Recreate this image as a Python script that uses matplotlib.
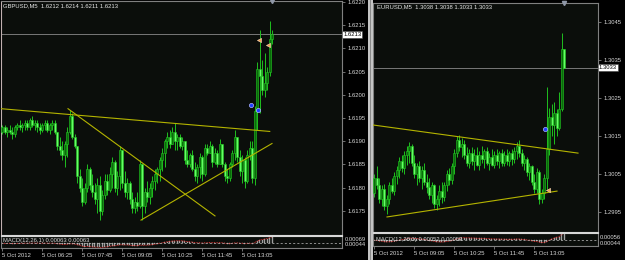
import matplotlib
matplotlib.use('Agg')
import matplotlib.pyplot as plt
import matplotlib.transforms as mtransforms
from matplotlib.patches import Rectangle
import numpy as np
import pandas as pd

plt.rcParams['font.family'] = ['Liberation Sans', 'DejaVu Sans']

# ---------------- DATA ----------------
# GBPUSD M5, 5 Oct 2012, from 05:05
gbp_open = [1.61920,1.61930,1.61920,1.61925,1.61920,1.61915,1.61930,1.61935,1.61930,1.61935,
            1.61940,1.61930,1.61945,1.61935,1.61940,1.61930,1.61925,1.61935,1.61940,1.61925,
            1.61935,1.61940,1.61920,1.61890,1.61880,1.61870,1.61895,1.61920,1.61955,1.61910,
            1.61890,1.61825,1.61800,1.61770,1.61800,1.61840,1.61805,1.61790,1.61775,1.61805,
            1.61750,1.61785,1.61815,1.61795,1.61830,1.61855,1.61800,1.61825,1.61880,1.61810,
            1.61790,1.61810,1.61775,1.61755,1.61770,1.61760,1.61850,1.61760,1.61790,1.61780,
            1.61800,1.61815,1.61830,1.61840,1.61860,1.61875,1.61900,1.61910,1.61895,1.61920,
            1.61900,1.61910,1.61890,1.61900,1.61860,1.61850,1.61870,1.61840,1.61825,1.61845,
            1.61865,1.61830,1.61885,1.61875,1.61890,1.61855,1.61875,1.61850,1.61895,1.61850,
            1.61825,1.61820,1.61850,1.61875,1.61910,1.61865,1.61835,1.61860,1.61815,1.61870,
            1.61885,1.61820,1.61965,1.62055,1.62040,1.62010,1.62025,1.62050,1.62120]
gbp_close = [1.61930,1.61920,1.61925,1.61920,1.61915,1.61930,1.61935,1.61930,1.61935,1.61940,
             1.61930,1.61945,1.61935,1.61940,1.61930,1.61925,1.61935,1.61940,1.61925,1.61935,
             1.61940,1.61920,1.61890,1.61880,1.61870,1.61895,1.61920,1.61955,1.61910,1.61890,
             1.61825,1.61800,1.61770,1.61800,1.61840,1.61805,1.61790,1.61775,1.61805,1.61750,
             1.61785,1.61815,1.61795,1.61830,1.61855,1.61800,1.61825,1.61880,1.61810,1.61790,
             1.61810,1.61775,1.61755,1.61770,1.61760,1.61850,1.61760,1.61790,1.61780,1.61800,
             1.61815,1.61830,1.61840,1.61860,1.61875,1.61900,1.61910,1.61895,1.61920,1.61900,
             1.61910,1.61890,1.61900,1.61860,1.61850,1.61870,1.61840,1.61825,1.61845,1.61865,
             1.61830,1.61885,1.61875,1.61890,1.61855,1.61875,1.61850,1.61895,1.61850,1.61825,
             1.61820,1.61850,1.61875,1.61910,1.61865,1.61835,1.61860,1.61815,1.61870,1.61885,
             1.61820,1.61965,1.62055,1.62040,1.62010,1.62025,1.62050,1.62120,1.62130]
gbp_high = [1.61935,1.61935,1.61930,1.61935,1.61930,1.61935,1.61940,1.61945,1.61940,1.61945,
            1.61945,1.61950,1.61955,1.61945,1.61945,1.61940,1.61940,1.61945,1.61945,1.61940,
            1.61945,1.61945,1.61920,1.61910,1.61900,1.61900,1.61930,1.61968,1.61960,1.61915,
            1.61890,1.61840,1.61820,1.61810,1.61850,1.61845,1.61830,1.61810,1.61820,1.61825,
            1.61795,1.61830,1.61830,1.61845,1.61865,1.61860,1.61835,1.61890,1.61880,1.61835,
            1.61820,1.61815,1.61790,1.61780,1.61790,1.61860,1.61850,1.61800,1.61815,1.61810,
            1.61825,1.61840,1.61845,1.61865,1.61885,1.61905,1.61920,1.61925,1.61930,1.61940,
            1.61915,1.61915,1.61910,1.61900,1.61880,1.61875,1.61880,1.61855,1.61850,1.61875,
            1.61870,1.61895,1.61895,1.61900,1.61895,1.61885,1.61880,1.61905,1.61895,1.61855,
            1.61840,1.61855,1.61880,1.61925,1.61910,1.61880,1.61870,1.61865,1.61880,1.61900,
            1.61900,1.61975,1.62070,1.62140,1.62075,1.62090,1.62060,1.62158,1.62140]
gbp_low = [1.61915,1.61915,1.61910,1.61915,1.61905,1.61910,1.61925,1.61925,1.61920,1.61925,
           1.61925,1.61925,1.61930,1.61925,1.61920,1.61915,1.61920,1.61925,1.61920,1.61915,
           1.61925,1.61915,1.61880,1.61870,1.61860,1.61845,1.61865,1.61915,1.61905,1.61885,
           1.61810,1.61790,1.61760,1.61765,1.61790,1.61795,1.61780,1.61765,1.61745,1.61730,
           1.61740,1.61775,1.61785,1.61790,1.61800,1.61790,1.61785,1.61795,1.61800,1.61780,
           1.61775,1.61765,1.61745,1.61745,1.61750,1.61755,1.61730,1.61745,1.61770,1.61765,
           1.61780,1.61795,1.61810,1.61815,1.61835,1.61845,1.61885,1.61885,1.61895,1.61880,
           1.61880,1.61885,1.61880,1.61850,1.61845,1.61845,1.61835,1.61815,1.61810,1.61820,
           1.61815,1.61825,1.61870,1.61875,1.61845,1.61850,1.61845,1.61850,1.61845,1.61815,
           1.61810,1.61815,1.61845,1.61860,1.61855,1.61825,1.61810,1.61800,1.61810,1.61860,
           1.61810,1.61805,1.61925,1.61960,1.62000,1.61995,1.62010,1.62040,1.62110]

# EURUSD M5, 5 Oct 2012, from 07:45
eur_open = [1.30000,1.30040,1.30020,1.29985,1.30010,1.29965,1.29985,1.30020,1.30005,1.30045,
            1.30060,1.30085,1.30065,1.30100,1.30110,1.30125,1.30080,1.30050,1.30070,1.30040,
            1.30060,1.30030,1.30015,1.29995,1.30020,1.29970,1.29985,1.30005,1.29990,1.30020,
            1.30050,1.30035,1.30070,1.30105,1.30140,1.30120,1.30130,1.30100,1.30080,1.30105,
            1.30085,1.30100,1.30075,1.30100,1.30090,1.30110,1.30080,1.30095,1.30075,1.30100,
            1.30085,1.30105,1.30080,1.30100,1.30085,1.30105,1.30090,1.30110,1.30125,1.30105,
            1.30080,1.30090,1.30055,1.30070,1.30030,1.30010,1.30055,1.29985,1.30000,1.30040,
            1.30115,1.30200,1.30180,1.30210,1.30170,1.30220,1.30380]
eur_close = [1.30040,1.30020,1.29985,1.30010,1.29965,1.29985,1.30020,1.30005,1.30045,1.30060,
             1.30085,1.30065,1.30100,1.30110,1.30125,1.30080,1.30050,1.30070,1.30040,1.30060,
             1.30030,1.30015,1.29995,1.30020,1.29970,1.29985,1.30005,1.29990,1.30020,1.30050,
             1.30035,1.30070,1.30105,1.30140,1.30120,1.30130,1.30100,1.30080,1.30105,1.30085,
             1.30100,1.30075,1.30100,1.30090,1.30110,1.30080,1.30095,1.30075,1.30100,1.30085,
             1.30105,1.30080,1.30100,1.30085,1.30105,1.30090,1.30110,1.30125,1.30105,1.30080,
             1.30090,1.30055,1.30070,1.30030,1.30010,1.30055,1.29985,1.30000,1.30040,1.30115,
             1.30200,1.30180,1.30210,1.30170,1.30220,1.30380,1.30330]
eur_high = [1.30050,1.30070,1.30040,1.30020,1.30025,1.29995,1.30030,1.30040,1.30055,1.30070,
            1.30095,1.30100,1.30110,1.30125,1.30133,1.30130,1.30100,1.30080,1.30085,1.30070,
            1.30080,1.30050,1.30040,1.30030,1.30025,1.29995,1.30020,1.30030,1.30030,1.30060,
            1.30065,1.30080,1.30115,1.30150,1.30153,1.30145,1.30140,1.30120,1.30115,1.30120,
            1.30115,1.30120,1.30110,1.30125,1.30115,1.30120,1.30105,1.30115,1.30110,1.30115,
            1.30110,1.30115,1.30110,1.30115,1.30110,1.30115,1.30120,1.30135,1.30140,1.30115,
            1.30100,1.30095,1.30080,1.30075,1.30050,1.30065,1.30060,1.30010,1.30050,1.30280,
            1.30225,1.30235,1.30240,1.30220,1.30265,1.30421,1.30380]
eur_low = [1.29990,1.30010,1.29975,1.29965,1.29955,1.29945,1.29970,1.30000,1.29995,1.30025,
           1.30040,1.30055,1.30050,1.30075,1.30080,1.30070,1.30040,1.30020,1.30030,1.30010,
           1.30020,1.30000,1.29985,1.29975,1.29960,1.29955,1.29965,1.29975,1.29980,1.30005,
           1.30020,1.30025,1.30050,1.30095,1.30110,1.30095,1.30090,1.30070,1.30065,1.30075,
           1.30060,1.30070,1.30060,1.30080,1.30065,1.30075,1.30060,1.30070,1.30065,1.30075,
           1.30065,1.30070,1.30070,1.30075,1.30070,1.30075,1.30080,1.30090,1.30095,1.30070,
           1.30060,1.30045,1.30035,1.30020,1.30000,1.30000,1.29970,1.29975,1.29985,1.30010,
           1.30100,1.30150,1.30130,1.30150,1.30165,1.30215,1.30330]

gbp_price_ticks = [1.6175, 1.6180, 1.6185, 1.6190, 1.6195, 1.6200, 1.6205, 1.6210, 1.6215, 1.6220]
eur_price_ticks = [1.2995, 1.3005, 1.3015, 1.3025, 1.3035, 1.3045]
gbp_time_ticks = [0, 16, 32, 48, 64, 80, 96]
gbp_time_labels = ['5 Oct 2012', '5 Oct 06:25', '5 Oct 07:45', '5 Oct 09:05',
                   '5 Oct 10:25', '5 Oct 11:45', '5 Oct 13:05']
eur_time_ticks = [0, 16, 32, 48, 64]
eur_time_labels = ['5 Oct 2012', '5 Oct 09:05', '5 Oct 10:25', '5 Oct 11:45', '5 Oct 13:05']

gbp_bid = 1.6213
eur_bid = 1.3033
gbp_header = 'GBPUSD,M5  1.6212 1.6214 1.6211 1.6213'
eur_header = 'EURUSD,M5  1.3038 1.3038 1.3033 1.3033'
gbp_macd_text = 'MACD(12,26,1) 0.00063 0.00063'
eur_macd_text = 'MACD(12,26,1) 0.00052 0.00052'
gbp_macd_scale = ['0.00069', '0.00044']
eur_macd_scale = ['0.00056', '0.00044']
gbp_macd_range = (-0.00044, 0.00069)
eur_macd_range = (-0.00044, 0.00056)

# trend lines: (bar, price) endpoints
gbp_trend = [((-0.5, 1.61970), (107.0, 1.61921)),
             ((26.3, 1.61970), (85.1, 1.61739)),
             ((55.5, 1.61730), (107.9, 1.61895))]
eur_trend = [((-0.5, 1.30179), (81.5, 1.30105)),
             ((5.1, 1.29937), (73.1, 1.30005))]
# trade marks
gbp_buy_marks = [(99.5, 1.61979), (102.3, 1.61968)]
gbp_close_marks = [(102.7, 1.62118), (106.3, 1.62108)]
eur_buy_marks = [(68.3, 1.30168)]
eur_close_marks = [(69.5, 1.30008)]

# ---------------- STYLE ----------------
W, H = 625, 260
BG = '#0b0e0b'
TXT = '#d8d8d8'
GRAY = '#808080'
FS = 4.2

fig = plt.figure(figsize=(6.25, 2.6), dpi=100, facecolor='#000000')


def fax(x0, y0, x1, y1):
    ax = fig.add_axes([x0 / W, 1 - y1 / H, (x1 - x0) / W, (y1 - y0) / H])
    ax.set_facecolor(BG)
    return ax


def ftext(x, y, s, **kw):
    kw.setdefault('fontsize', FS)
    kw.setdefault('color', TXT)
    kw.setdefault('va', 'center')
    fig.text(x / W, 1 - y / H, s, **kw)


def candles(ax, o, h, l, c):
    o, h, l, c = map(np.asarray, (o, h, l, c))
    idx = np.arange(len(o))
    bull = c >= o
    ax.vlines(idx, l, h, color='#1fbf1f', lw=0.7, zorder=2)
    bottoms = np.minimum(o, c)
    heights = np.maximum(np.abs(c - o), 0.00002)
    ax.bar(idx[bull], heights[bull], bottom=bottoms[bull], width=0.7,
           color='#0a6a0a', edgecolor='#22cc22', lw=0.4, zorder=3)
    ax.bar(idx[~bull], heights[~bull], bottom=bottoms[~bull], width=0.7,
           color='#66ff66', edgecolor='#22c822', lw=0.4, zorder=3)


def main_panel(box, o, h, l, c, xlim, ylim, ticks, bid, trends, buys, closes):
    ax = fax(*box)
    candles(ax, o, h, l, c)
    ax.set_xlim(*xlim)
    ax.set_ylim(*ylim)
    ax.axhline(bid, color='#787878', lw=0.7, zorder=1)
    for (x0, y0), (x1, y1) in trends:
        ax.plot([x0, x1], [y0, y1], color='#b4b400', lw=0.8, zorder=4)
    for x, y in buys:
        ax.plot(x, y, 'o', ms=3, mfc='#1f3cff', mec='#b0b8ff', mew=0.5, zorder=6)
    for x, y in closes:
        ax.plot(x, y, '<', ms=3, mfc='#f0a050', mec='#ffe0c0', mew=0.4, zorder=6)
    ax.set_xticks([])
    ax.yaxis.tick_right()
    ax.set_yticks(ticks, [f'{t:.4f}' for t in ticks])
    ax.tick_params(axis='y', length=2, width=0.6, color=GRAY, labelsize=FS,
                   labelcolor=TXT, pad=2)
    for s in ax.spines.values():
        s.set_color(GRAY)
        s.set_linewidth(0.8)
    ax.spines['bottom'].set_color('#d8d8d8')
    trans = mtransforms.blended_transform_factory(ax.transAxes, ax.transData)
    ax.text(1.004, bid, f'{bid:.4f}', transform=trans, fontsize=FS, color='black',
            va='center', ha='left', zorder=10,
            bbox=dict(boxstyle='square,pad=0.15', fc='white', ec='#404040', lw=0.4))
    ax.plot(len(o) - 1.2, ylim[1], 'v', ms=3, color='#9098a8', clip_on=False, zorder=7)
    return ax


def macd_panel(box, c, xlim, yrange, tticks, tlabels):
    ax = fax(*box)
    s = pd.Series(c)
    macd = s.ewm(span=12, adjust=False).mean() - s.ewm(span=26, adjust=False).mean()
    signal = macd.ewm(span=1, adjust=False).mean()
    idx = np.arange(len(c))
    ax.bar(idx, macd.values, width=0.55, color='#909090', edgecolor='#c8c8c8', lw=0.2)
    ax.plot(idx, signal.values, color='#ff3030', lw=0.6, ls=(0, (1, 1)))
    ax.axhline(0, color='#c0c0c0', lw=0.5, ls=(0, (3, 3)))
    ax.set_xlim(*xlim)
    ax.set_ylim(*yrange)
    ax.set_yticks([])
    ax.set_xticks(tticks)
    ax.set_xticklabels(tlabels, ha='left', fontsize=FS, color=TXT)
    ax.tick_params(axis='x', length=2, width=0.6, color=GRAY, pad=1.5)
    for sp in ax.spines.values():
        sp.set_color(GRAY)
        sp.set_linewidth(0.8)
    ax.spines['top'].set_color('#d8d8d8')
    return ax


# separator strip between windows
fig.patches.append(Rectangle((368 / W, 0), 5 / W, 1, transform=fig.transFigure,
                             fc='#c4c4c4', ec='none', zorder=0))
fig.patches.append(Rectangle((370 / W, 0), 1 / W, 1, transform=fig.transFigure,
                             fc='#8a8a8a', ec='none', zorder=0))

# GBP window
ax1 = main_panel((1, 1, 342, 235), gbp_open, gbp_high, gbp_low, gbp_close,
                 (-0.5, 135.9), (1.616979, 1.62202), gbp_price_ticks, gbp_bid,
                 gbp_trend, gbp_buy_marks, gbp_close_marks)
ax1.spines['left'].set_color('#c0b0b0')
m1 = macd_panel((1, 236, 342, 248), gbp_close, (-0.5, 135.9), gbp_macd_range,
                gbp_time_ticks, gbp_time_labels)

# EUR window
ax2 = main_panel((373, 3, 598, 232), eur_open, eur_high, eur_low, eur_close,
                 (-0.5, 89.5), (1.298974, 1.30500), eur_price_ticks, eur_bid,
                 eur_trend, eur_buy_marks, eur_close_marks)
m2 = macd_panel((373, 233, 598, 246), eur_close, (-0.5, 89.5), eur_macd_range,
                eur_time_ticks, eur_time_labels)

# headers and indicator labels
ftext(3, 6, gbp_header, color='#e8e8e8')
ftext(377, 7, eur_header, color='#e8e8e8')
ftext(3, 240.5, gbp_macd_text)
ftext(376, 239, eur_macd_text)
ftext(345, 239.5, gbp_macd_scale[0])
ftext(345, 244.5, gbp_macd_scale[1])
ftext(600, 237.5, eur_macd_scale[0])
ftext(600, 243.5, eur_macd_scale[1])

fig.savefig('out.png', dpi=100, facecolor=fig.get_facecolor())
